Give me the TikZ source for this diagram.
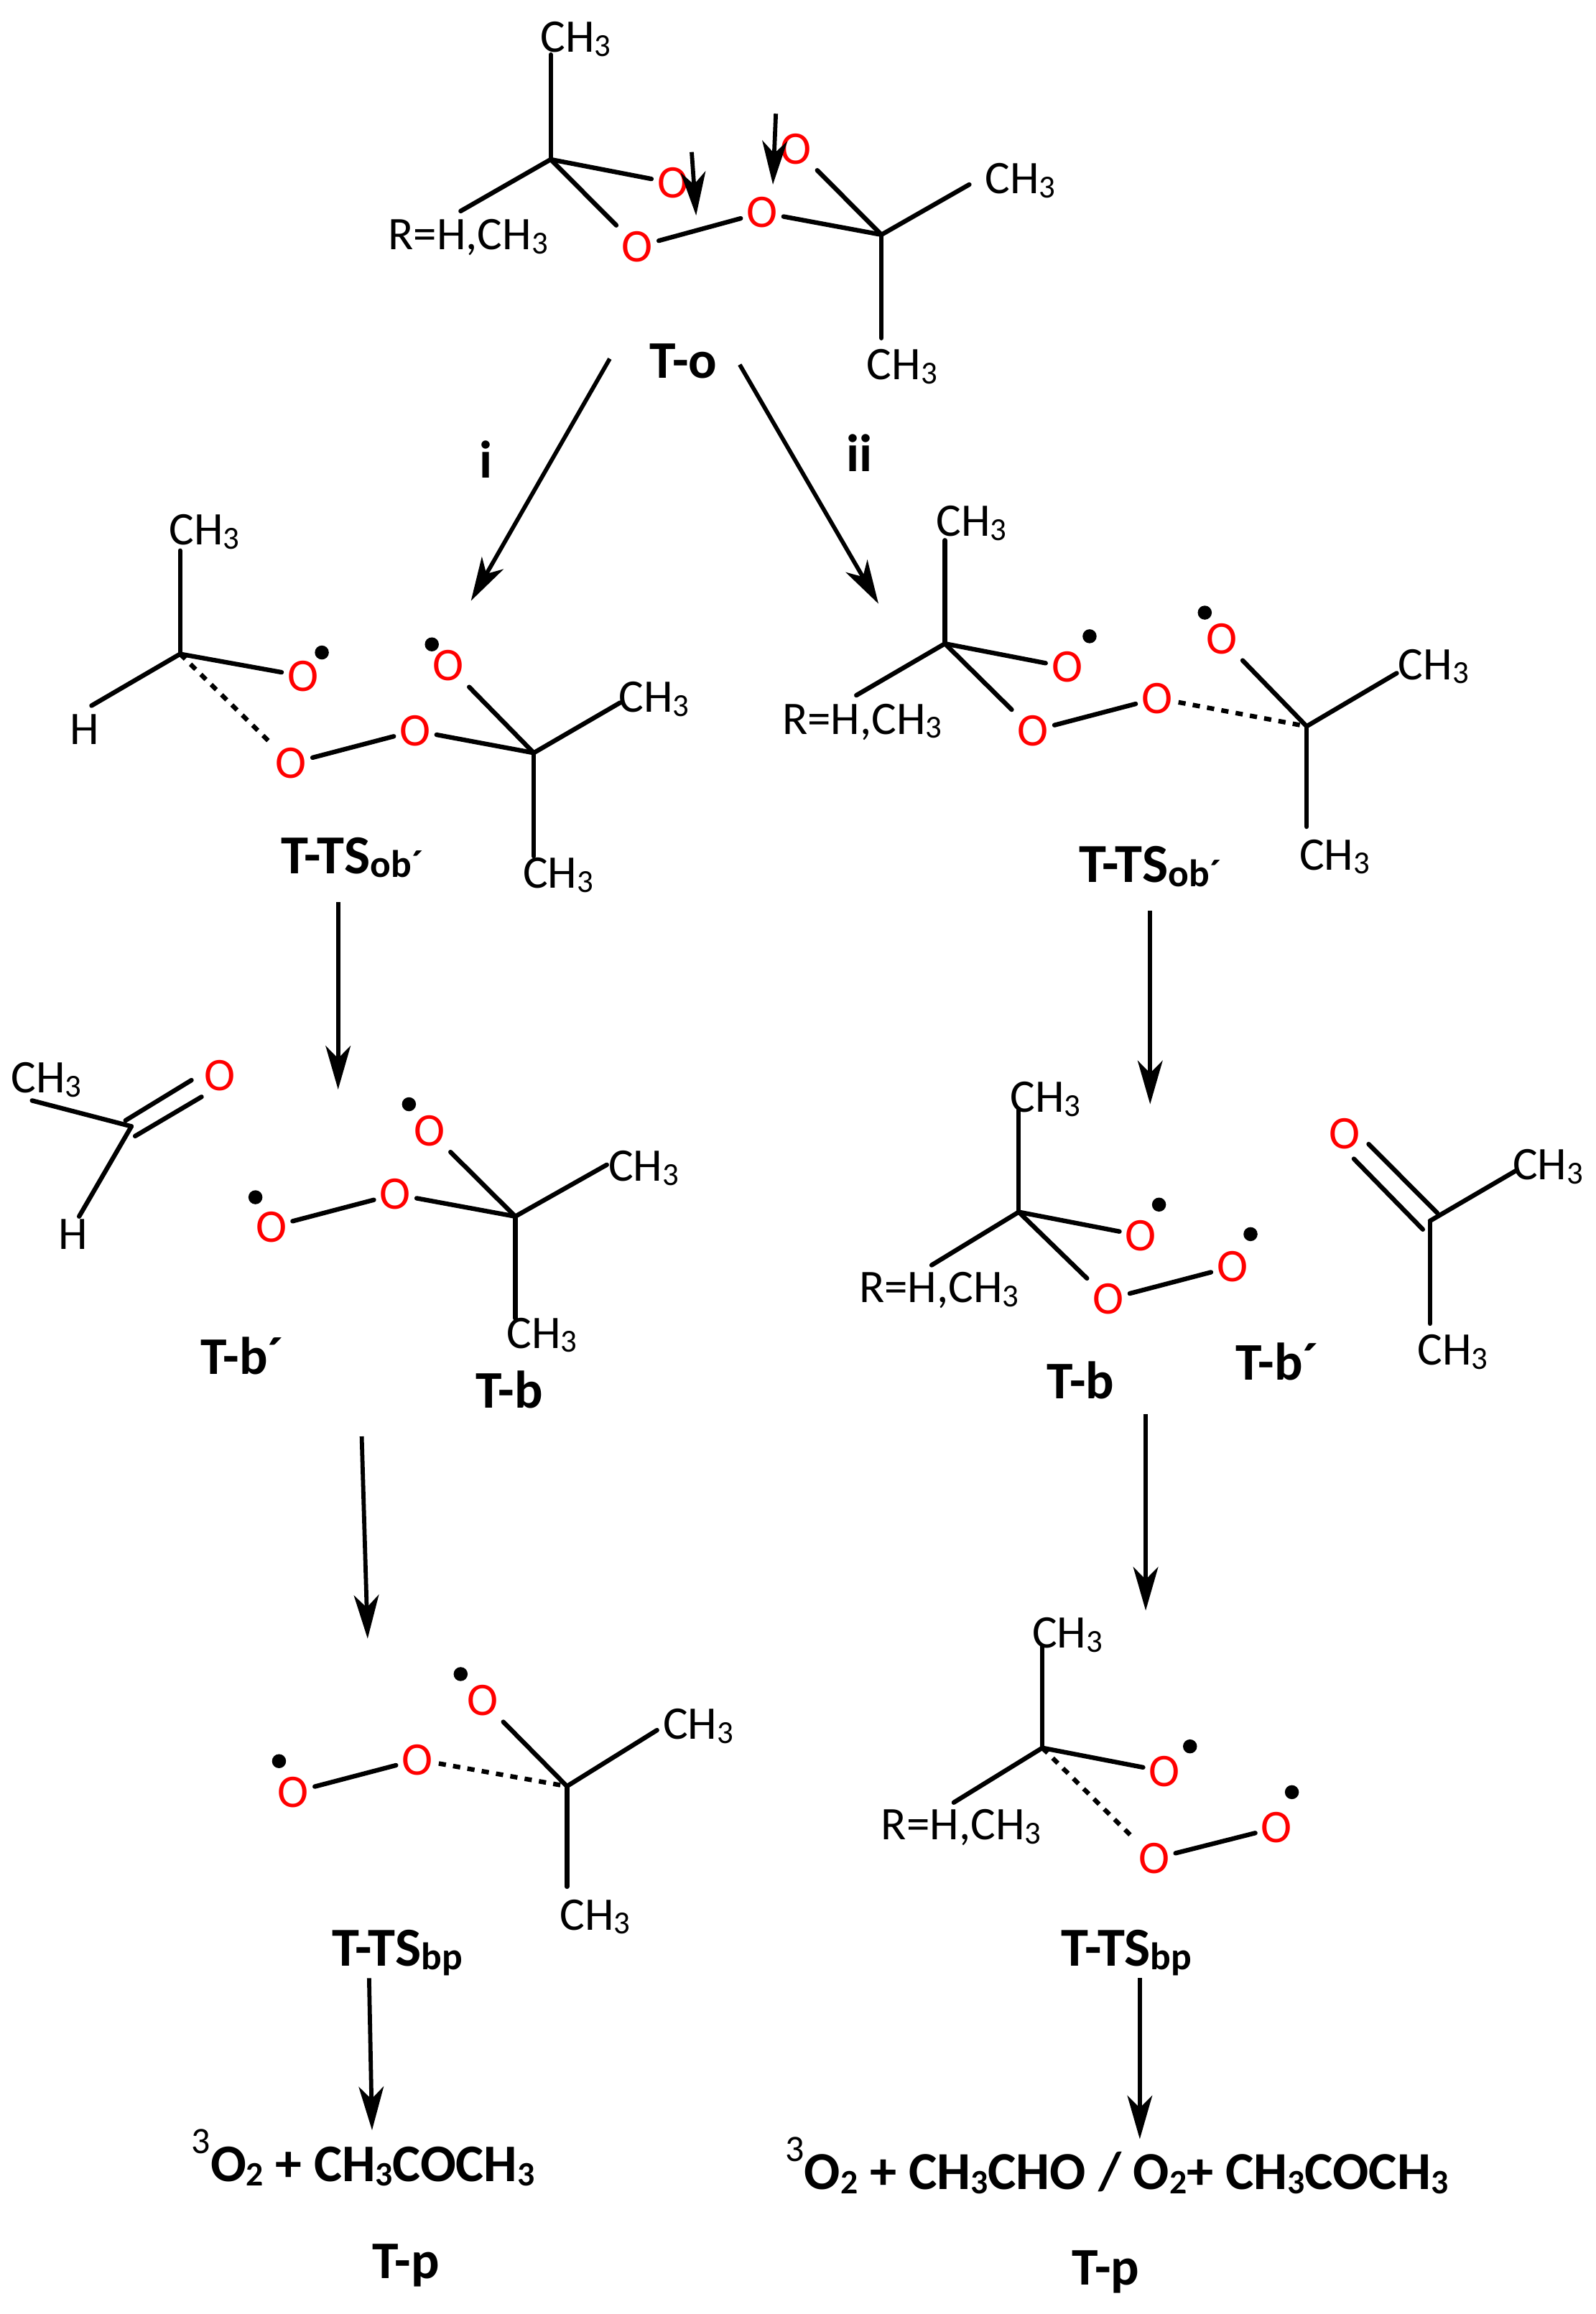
\documentclass[tikz,border=0pt]{standalone}
\usepackage{fontspec}
\setmainfont{Carlito}
\usetikzlibrary{arrows.meta}
\newcommand\dn[1]{\raisebox{-4pt}{\fontsize{31}{31}\selectfont #1}}
\newcommand\dnb[1]{\raisebox{-4pt}{\fontsize{33}{33}\selectfont #1}}
\newcommand\dnc[1]{\raisebox{-4pt}{\fontsize{37}{37}\selectfont #1}}
\newcommand\upb[1]{\raisebox{27pt}{\fontsize{36}{36}\selectfont\mdseries #1}}
\tikzset{
  x=0.5mm,y=-0.5mm,
  bond/.style={line width=4.4pt,line cap=round,black},
  dbond/.style={line width=4.4pt,black,dash pattern=on 7pt off 7pt},
  rx/.style={line width=4pt,black,-{Stealth[length=42pt,width=24pt,inset=12pt]}},
  atom/.style={inner sep=0pt,text height=29pt,text depth=0pt,yshift=2.8pt,font=\fontsize{45}{50}\selectfont,black},
  oxy/.style={inner sep=5.5pt,xshift=1pt,font=\fontsize{45}{50}\selectfont,red},
  lab/.style={inner sep=0pt,text height=33pt,text depth=0pt,font=\fontsize{51}{60}\selectfont\bfseries,black},
  labw/.style={lab,font=\fontsize{53}{60}\selectfont\bfseries},
  dot/.style={fill=black,draw=none,circle,inner sep=0pt,minimum size=13.5pt},
}
\begin{document}
\begin{tikzpicture}
\useasboundingbox (0,0) rectangle (1081,1567.5);
% ---- T-o
\coordinate (a1c) at (373,108);
\coordinate (a2c) at (597,159);
\node[atom] (a1m) at (390,27) {CH\dn{3}};
\node[atom] (a1r) at (317,161) {R=H,CH\dn{3}};
\node[oxy] (a1o) at (455,124) {O};
\node[oxy] (a1p) at (431,167) {O};
\node[oxy] (a2p) at (515.5,144) {O};
\node[oxy] (a2o) at (538.5,101) {O};
\node[atom] (a2m) at (691,123) {CH\dn{3}};
\node[atom] (a2n) at (611,249) {CH\dn{3}};
\coordinate (a1me) at (373,37);
\coordinate (a1re) at (312,143);
\coordinate (a2me) at (656.5,125);
\coordinate (a2ne) at (597,229);
\draw[bond] (a1c)--(a1me);
\draw[bond] (a1c)--(a1re);
\draw[bond] (a1c)--(a1o);
\draw[bond] (a1c)--(a1p);
\draw[bond] (a1p)--(a2p);
\draw[bond] (a2p)--(a2c);
\draw[bond] (a2o)--(a2c);
\draw[bond] (a2c)--(a2me);
\draw[bond] (a2c)--(a2ne);
\coordinate (s1a) at (468.5,103); \coordinate (s1b) at (471.5,146);
\coordinate (s2a) at (525.5,77); \coordinate (s2b) at (523.5,125);
\draw[rx] (s1a)--(s1b);
\draw[rx] (s2a)--(s2b);
\node[lab] (to) at (463,244.5) {T-o};
\coordinate (m1a) at (413,243); \coordinate (m1b) at (319,407);
\coordinate (m2a) at (501,247); \coordinate (m2b) at (595,409);
\draw[rx] (m1a)--(m1b);
\draw[rx] (m2a)--(m2b);
\node[lab] (li) at (329,312) {i};
\node[lab] (lii) at (582,308) {ii};
% ---- left TS ob
\coordinate (b1c) at (122,443);
\coordinate (b2c) at (361.5,510);
\node[atom] (b1m) at (138.5,361) {CH\dn{3}};
\node[atom] (b1h) at (57.5,496) {H};
\node[oxy] (b1o) at (204.5,458) {O};
\node[oxy] (b1p) at (196.5,517) {O};
\node[oxy] (b2p) at (280.5,495) {O};
\node[oxy] (b2o) at (303,451) {O};
\node[atom] (b2m) at (443,474) {CH\dn{3}};
\node[atom] (b2n) at (378,593.5) {CH\dn{3}};
\node[dot] (b1d) at (218,442) {};
\node[dot] (b2d) at (292.5,436.5) {};
\coordinate (b1me) at (122,373);
\coordinate (b1he) at (62,478);
\coordinate (b2me) at (420,476);
\coordinate (b2ne) at (361.5,580);
\draw[bond] (b1c)--(b1me);
\draw[bond] (b1c)--(b1he);
\draw[bond] (b1c)--(b1o);
\draw[dbond] (b1c)--(b1p);
\draw[bond] (b1p)--(b2p);
\draw[bond] (b2p)--(b2c);
\draw[bond] (b2o)--(b2c);
\draw[bond] (b2c)--(b2me);
\draw[bond] (b2c)--(b2ne);
\node[labw] (bl) at (238.5,580) {T-TS\dnc{ob´}};
\coordinate (m3a) at (229,611); \coordinate (m3b) at (229,738);
\draw[rx] (m3a)--(m3b);
% ---- right TS ob
\coordinate (c1c) at (640,436);
\coordinate (c2c) at (885,492);
\node[atom] (c1m) at (658,355) {CH\dn{3}};
\node[atom] (c1r) at (584,489) {R=H,CH\dn{3}};
\node[oxy] (c1o) at (722,452) {O};
\node[oxy] (c1p) at (699,495) {O};
\node[oxy] (c2p) at (783,473) {O};
\node[oxy] (c2o) at (827,433) {O};
\node[atom] (c2m) at (971,452) {CH\dn{3}};
\node[atom] (c2n) at (904,581) {CH\dn{3}};
\node[dot] (c1d) at (738,431) {};
\node[dot] (c2d) at (816,415) {};
\coordinate (c1me) at (640,366);
\coordinate (c1re) at (580,471);
\coordinate (c2me) at (946,456);
\coordinate (c2ne) at (885,560);
\draw[bond] (c1c)--(c1me);
\draw[bond] (c1c)--(c1re);
\draw[bond] (c1c)--(c1o);
\draw[bond] (c1c)--(c1p);
\draw[bond] (c1p)--(c2p);
\draw[dbond] (c2p)--(c2c);
\draw[bond] (c2o)--(c2c);
\draw[bond] (c2c)--(c2me);
\draw[bond] (c2c)--(c2ne);
\node[labw] (cl) at (779,586) {T-TS\dnc{ob´}};
\coordinate (m4a) at (779,617); \coordinate (m4b) at (779,748);
\draw[rx] (m4a)--(m4b);
% ---- left T-b
\coordinate (d0c) at (89,763);
\node[atom] (d0m) at (31.5,732) {CH\dn{3}};
\node[oxy] (d0o) at (148,728.5) {O};
\node[atom] (d0h) at (49.5,838) {H};
\coordinate (d0me) at (21.7,745.5);
\coordinate (d0he) at (53.6,824);
\coordinate (d0ua) at (85,759);
\coordinate (d0ub) at (129.7,731.7);
\coordinate (d0la) at (91.5,769.6);
\coordinate (d0lb) at (136.5,743);
\draw[bond] (d0c)--(d0me);
\draw[bond] (d0c)--(d0he);
\draw[bond] (d0ua)--(d0ub);
\draw[bond] (d0la)--(d0lb);
\coordinate (d2c) at (349,824);
\node[oxy] (d1p) at (183,831) {O};
\node[oxy] (d2p) at (267,809) {O};
\node[oxy] (d2o) at (290,766) {O};
\node[atom] (d2m) at (436,792) {CH\dn{3}};
\node[atom] (d2n) at (367,905) {CH\dn{3}};
\node[dot] (d1d) at (173,811) {};
\node[dot] (d2d) at (277,748) {};
\coordinate (d2me) at (411,789);
\coordinate (d2ne) at (349,893);
\draw[bond] (d1p)--(d2p);
\draw[bond] (d2p)--(d2c);
\draw[bond] (d2o)--(d2c);
\draw[bond] (d2c)--(d2me);
\draw[bond] (d2c)--(d2ne);
\node[lab] (dl1) at (164,919.5) {T-b´};
\node[lab] (dl2) at (345,942) {T-b};
\coordinate (m5a) at (245,973); \coordinate (m5b) at (249,1110);
\draw[rx] (m5a)--(m5b);
% ---- right T-b
\coordinate (e1c) at (690,821);
\node[atom] (e1m) at (708,745) {CH\dn{3}};
\node[atom] (e1r) at (636,874) {R=H,CH\dn{3}};
\node[oxy] (e1o) at (772,837) {O};
\node[oxy] (e1p) at (750,880) {O};
\node[oxy] (e2p) at (834,858) {O};
\node[dot] (e1d) at (785,816) {};
\node[dot] (e2d) at (847,836) {};
\coordinate (e1me) at (690,751);
\coordinate (e1re) at (631,857);
\draw[bond] (e1c)--(e1me);
\draw[bond] (e1c)--(e1re);
\draw[bond] (e1c)--(e1o);
\draw[bond] (e1c)--(e1p);
\draw[bond] (e1p)--(e2p);
\node[lab] (el1) at (732,936) {T-b};
\coordinate (e3c) at (968.6,827);
\node[oxy] (e3o) at (910,768) {O};
\node[atom] (e3m) at (1048.5,791) {CH\dn{3}};
\node[atom] (e3n) at (984,916.5) {CH\dn{3}};
\coordinate (e3me) at (1026.8,793);
\coordinate (e3ne) at (968.6,896.6);
\coordinate (e3ua) at (927,775);
\coordinate (e3ub) at (973.5,821.7);
\coordinate (e3la) at (917,785);
\coordinate (e3lb) at (963.7,832.8);
\draw[bond] (e3ua)--(e3ub);
\draw[bond] (e3la)--(e3lb);
\draw[bond] (e3c)--(e3me);
\draw[bond] (e3c)--(e3ne);
\node[lab] (el2) at (865,923) {T-b´};
\coordinate (m6a) at (776,958); \coordinate (m6b) at (776,1091);
\draw[rx] (m6a)--(m6b);
% ---- left TS bp
\coordinate (f2c) at (384,1210);
\node[oxy] (f1p) at (198,1214) {O};
\node[oxy] (f2p) at (282,1192) {O};
\node[oxy] (f2o) at (326,1152) {O};
\node[atom] (f2m) at (473,1170) {CH\dn{3}};
\node[atom] (f2n) at (403,1299) {CH\dn{3}};
\node[dot] (f1d) at (189,1193) {};
\node[dot] (f2d) at (312,1134) {};
\coordinate (f2me) at (445,1172);
\coordinate (f2ne) at (384,1278);
\draw[bond] (f1p)--(f2p);
\draw[dbond] (f2p)--(f2c);
\draw[bond] (f2o)--(f2c);
\draw[bond] (f2c)--(f2me);
\draw[bond] (f2c)--(f2ne);
\node[labw] (fl) at (269,1320) {T-TS\dnc{bp}};
\coordinate (m7a) at (250,1340); \coordinate (m7b) at (252,1443);
\draw[rx] (m7a)--(m7b);
% ---- right TS bp
\coordinate (g1c) at (706,1184);
\node[atom] (g1m) at (723,1108) {CH\dn{3}};
\node[atom] (g1r) at (651,1238) {R=H,CH\dn{3}};
\node[oxy] (g1o) at (788,1200) {O};
\node[oxy] (g1p) at (781,1259) {O};
\node[oxy] (g2p) at (864,1238) {O};
\node[dot] (g1d) at (806,1183) {};
\node[dot] (g2d) at (875,1214) {};
\coordinate (g1me) at (706,1115);
\coordinate (g1re) at (646,1221);
\draw[bond] (g1c)--(g1me);
\draw[bond] (g1c)--(g1re);
\draw[bond] (g1c)--(g1o);
\draw[dbond] (g1c)--(g1p);
\draw[bond] (g1p)--(g2p);
\node[labw] (gl) at (763,1320) {T-TS\dnc{bp}};
\coordinate (m8a) at (772,1340); \coordinate (m8b) at (772,1449);
\draw[rx] (m8a)--(m8b);
% ---- products
\node[lab] (pl) at (246,1466) {\upb{3}O\dnb{2} + CH\dnb{3}COCH\dnb{3}};
\node[lab,font=\fontsize{51.5}{60}\selectfont\bfseries] (pr) at (756.5,1471.5) {\upb{3}O\dnb{2} + CH\dnb{3}CHO / O\dnb{2}+ CH\dnb{3}COCH\dnb{3}};
\node[lab] (tl) at (275,1532) {T-p};
\node[lab] (tr) at (749,1536) {T-p};
\end{tikzpicture}
\end{document}
